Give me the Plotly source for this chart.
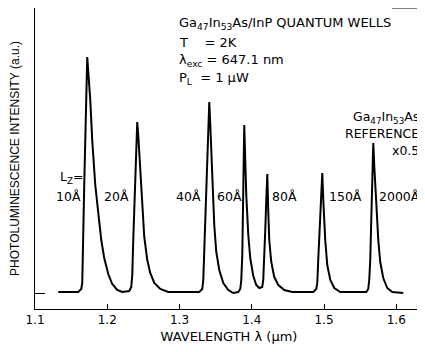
import plotly.graph_objects as go

# Spectrum trace: wavelength (um) and PL intensity (a.u.)
wavelength = [1.1322, 1.1488, 1.1599, 1.1640, 1.1654, 1.1682, 1.1709, 1.1723, 1.1765, 1.1792,
              1.1834, 1.1875, 1.1917, 1.1958, 1.2014, 1.2069, 1.2138, 1.2208,
              1.2304, 1.2332, 1.2346, 1.2360, 1.2388, 1.2401, 1.2415, 1.2429, 1.2457, 1.2484,
              1.2512, 1.2554, 1.2595, 1.2651, 1.2734, 1.2844,
              1.3273, 1.3315, 1.3329, 1.3343, 1.3370, 1.3398, 1.3412, 1.3426, 1.3453, 1.3481,
              1.3509, 1.3550, 1.3606, 1.3675, 1.3744, 1.3813, 1.3841, 1.3855, 1.3869, 1.3882,
              1.3896,
              1.3910, 1.3924, 1.3952, 1.3979, 1.4021, 1.4062, 1.4104, 1.4145, 1.4159, 1.4173,
              1.4187, 1.4201, 1.4215,
              1.4228, 1.4242, 1.4270, 1.4311, 1.4367, 1.4450, 1.4561,
              1.4851, 1.4893, 1.4907, 1.4920, 1.4948, 1.4976, 1.4990, 1.5017, 1.5045, 1.5087,
              1.5142, 1.5225,
              1.5585, 1.5612, 1.5626, 1.5640, 1.5654, 1.5668, 1.5682, 1.5695, 1.5723, 1.5751,
              1.5778, 1.5820, 1.5875, 1.5945, 1.6097]
intensity = [1, 1, 1, 4, 10, 110, 210, 236, 193, 153,
             108, 78, 53, 35, 19, 9, 3, 1,
             2, 6, 18, 53, 113, 143, 171, 158, 123, 83,
             56, 33, 20, 10, 4, 1,
             1, 4, 13, 43, 103, 163, 191, 168, 113, 68,
             41, 23, 10, 3, 0, 1, 4, 13, 38, 93,
             168,
             133, 98, 58, 35, 17, 8, 5, 6, 13, 33,
             63, 93, 119,
             83, 53, 31, 16, 8, 3, 1,
             1, 4, 10, 33, 83, 120, 93, 53, 28, 13,
             5, 1,
             1, 4, 13, 33, 73, 113, 150, 128, 88, 53,
             31, 15, 5, 1, 0]

# Well-width labels
lz_labels = ["10Å", "20Å", "40Å", "60Å", "80Å", "150Å", "2000Å"]
lz_label_x = [1.1668, 1.2332, 1.3329, 1.3495, 1.4256, 1.5045, 1.5737]
lz_label_anchor = ["right", "right", "right", "left", "left", "left", "left"]

x_ticks = [1.1, 1.2, 1.3, 1.4, 1.5, 1.6]
x_tick_text = ["1.1", "1.2", "1.3", "1.4", "1.5", "1.6"]

FONT = "DejaVu Sans, sans-serif"

fig = go.Figure()
fig.add_trace(go.Scatter(x=wavelength, y=intensity, mode="lines",
                         line=dict(color="black", width=2), hoverinfo="skip"))

ann = []
label_y = 97
for t, xv, a in zip(lz_labels, lz_label_x, lz_label_anchor):
    ann.append(dict(x=xv, y=label_y, text=t, xanchor=a, yanchor="middle", showarrow=False))
ann.append(dict(x=1.1318, y=116, text="L<sub>Z</sub>=", xanchor="left", yanchor="middle", showarrow=False))

hdr_x = 1.2969
hdr_font = dict(size=13)
ann.append(dict(x=hdr_x, y=270, text="Ga<sub>47</sub>In<sub>53</sub>As/InP QUANTUM WELLS",
                xanchor="left", yanchor="middle", showarrow=False, font=hdr_font))
ann.append(dict(x=hdr_x, y=251, text="T    = 2K", xanchor="left", yanchor="middle", showarrow=False, font=hdr_font))
ann.append(dict(x=hdr_x, y=233, text="λ<sub>exc</sub> = 647.1 nm", xanchor="left", yanchor="middle", showarrow=False, font=hdr_font))
ann.append(dict(x=hdr_x, y=215, text="P<sub>L</sub>  = 1 μW", xanchor="left", yanchor="middle", showarrow=False, font=hdr_font))

ref_x = 1.6346
ann.append(dict(x=ref_x, y=176, text="Ga<sub>47</sub>In<sub>53</sub>As", xanchor="right", yanchor="middle", showarrow=False))
ann.append(dict(x=ref_x, y=160, text="REFERENCE", xanchor="right", yanchor="middle", showarrow=False))
ann.append(dict(x=ref_x, y=143, text="x0.5", xanchor="right", yanchor="middle", showarrow=False))

fig.update_layout(
    width=417, height=344,
    margin=dict(l=27, r=2, t=0, b=43, pad=0),
    paper_bgcolor="white", plot_bgcolor="white",
    showlegend=False,
    font=dict(family=FONT, size=12.5, color="black"),
    annotations=ann,
    xaxis=dict(range=[1.1, 1.637], tickvals=x_ticks, ticktext=x_tick_text,
               ticks="inside", ticklen=5, tickcolor="black", showline=True,
               linecolor="black", linewidth=1, showgrid=False, zeroline=False,
               automargin=False,
               title=dict(text="WAVELENGTH λ (μm)", standoff=5, font=dict(size=13)),
               tickfont=dict(size=12)),
    yaxis=dict(range=[-16, 285], tickvals=[0], ticks="inside", ticklen=10,
               tickcolor="black", showticklabels=False, showline=True,
               linecolor="black", linewidth=1, showgrid=False, zeroline=False,
               automargin=False,
               title=dict(text="PHOTOLUMINESCENCE INTENSITY (a.u.)", standoff=12,
                          font=dict(family="Liberation Sans, Arial, sans-serif", size=12))),
    shapes=[
        dict(type="line", xref="paper", yref="paper", x0=1, x1=1, y0=0, y1=1,
             line=dict(color="black", width=1)),
        dict(type="line", xref="paper", yref="paper", x0=0.92, x1=1, y0=1, y1=1,
             line=dict(color="black", width=1)),
    ],
)

fig.write_html("out.html")
